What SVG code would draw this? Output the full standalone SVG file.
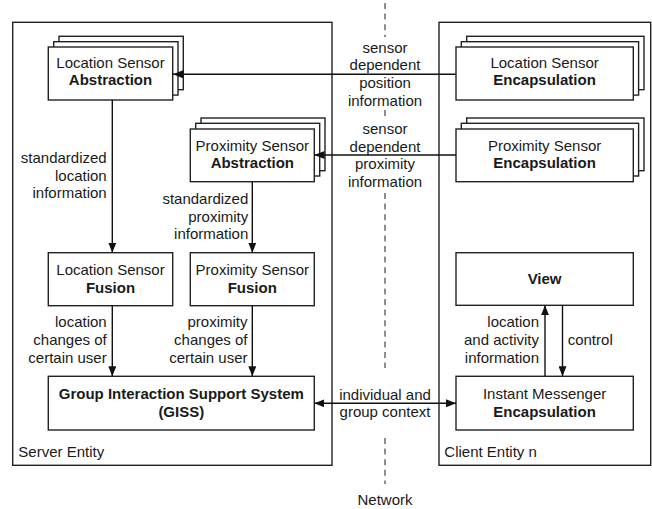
<svg xmlns="http://www.w3.org/2000/svg" width="652" height="509" viewBox="0 0 652 509">
<style>
text{font-family:"Liberation Sans",Arial,sans-serif;font-size:15px;fill:#1a1a1a}
.b{font-weight:bold}
.m{text-anchor:middle}
.r{text-anchor:end}
.box{fill:#fff;stroke:#222;stroke-width:1.4}
.ent{fill:none;stroke:#222;stroke-width:1.4}
.c{fill:none;stroke:#111;stroke-width:1.4}
.net{fill:none;stroke:#444;stroke-width:1.2;stroke-dasharray:6 4.6}
</style>
<defs>
<marker id="ah" markerUnits="userSpaceOnUse" markerWidth="10" markerHeight="8" refX="10" refY="4" orient="auto-start-reverse">
<path d="M0,0 L10,4 L0,8 z" fill="#111"/>
</marker>
</defs>
<g id="network">
<line class="net" x1="385" y1="3" x2="385" y2="37"/>
<line class="net" x1="385" y1="110" x2="385" y2="118"/>
<line class="net" x1="385" y1="193" x2="385" y2="368"/>
<line class="net" x1="385" y1="438" x2="385" y2="484"/>
<text class="m" x="385" y="505">Network</text>
</g>
<g id="server-entity">
<rect class="ent" x="12.7" y="22.3" width="319.3" height="443"/>
<text x="18.3" y="456.7">Server Entity</text>
</g>
<g id="client-entity">
<rect class="ent" x="439" y="22.3" width="211.7" height="443"/>
<text x="444.3" y="456.7">Client Entity n</text>
</g>
<g id="location-sensor-abstraction">
<rect class="box" x="59" y="36.3" width="124.3" height="53.4"/>
<rect class="box" x="53.7" y="41.7" width="124.3" height="53.4"/>
<rect class="box" x="48.3" y="47" width="124.4" height="53"/>
<text class="m" x="110.5" y="68.3">Location Sensor</text>
<text class="m b" x="110.5" y="85.3">Abstraction</text>
</g>
<g id="proximity-sensor-abstraction">
<rect class="box" x="201" y="118" width="124" height="52.7"/>
<rect class="box" x="195.7" y="123.3" width="124" height="52.7"/>
<rect class="box" x="190.3" y="129" width="124" height="52.7"/>
<text class="m" x="252.3" y="150.7">Proximity Sensor</text>
<text class="m b" x="252.3" y="168.3">Abstraction</text>
</g>
<g id="location-sensor-encapsulation">
<rect class="box" x="466.7" y="36.3" width="177.3" height="53.4"/>
<rect class="box" x="461.3" y="41.7" width="177.3" height="53.4"/>
<rect class="box" x="456" y="47" width="177.3" height="53"/>
<text class="m" x="544.6" y="68.3">Location Sensor</text>
<text class="m b" x="544.6" y="85.3">Encapsulation</text>
</g>
<g id="proximity-sensor-encapsulation">
<rect class="box" x="466.7" y="118" width="177.3" height="52.7"/>
<rect class="box" x="461.3" y="123.3" width="177.3" height="52.7"/>
<rect class="box" x="456" y="129" width="177.3" height="52.7"/>
<text class="m" x="544.6" y="150.7">Proximity Sensor</text>
<text class="m b" x="544.6" y="168.3">Encapsulation</text>
</g>
<g id="location-sensor-fusion">
<rect class="box" x="48.3" y="252.7" width="124.4" height="53"/>
<text class="m" x="110.5" y="275">Location Sensor</text>
<text class="m b" x="110.5" y="292.7">Fusion</text>
</g>
<g id="proximity-sensor-fusion">
<rect class="box" x="190.3" y="252.7" width="124" height="53"/>
<text class="m" x="252.3" y="275">Proximity Sensor</text>
<text class="m b" x="252.3" y="292.7">Fusion</text>
</g>
<g id="giss">
<rect class="box" x="48.3" y="376.3" width="266" height="53.7"/>
<text class="m b" x="181.3" y="399">Group Interaction Support System</text>
<text class="m b" x="181.3" y="416.7">(GISS)</text>
</g>
<g id="view">
<rect class="box" x="456" y="252.7" width="177.3" height="52.6"/>
<text class="m b" x="544.6" y="284">View</text>
</g>
<g id="instant-messenger-encapsulation">
<rect class="box" x="456" y="376.3" width="177.3" height="53.7"/>
<text class="m" x="544.6" y="399">Instant Messenger</text>
<text class="m b" x="544.6" y="416.7">Encapsulation</text>
</g>
<g id="connectors">
<line class="c" x1="456" y1="74.3" x2="173" y2="74.3" marker-end="url(#ah)"/>
<line class="c" x1="456" y1="155" x2="314.5" y2="155" marker-end="url(#ah)"/>
<line class="c" x1="112.3" y1="100" x2="112.3" y2="252.7" marker-end="url(#ah)"/>
<line class="c" x1="252.3" y1="181.7" x2="252.3" y2="252.7" marker-end="url(#ah)"/>
<line class="c" x1="112.3" y1="305.7" x2="112.3" y2="376.3" marker-end="url(#ah)"/>
<line class="c" x1="252.3" y1="305.7" x2="252.3" y2="376.3" marker-end="url(#ah)"/>
<line class="c" x1="314.3" y1="403.3" x2="456" y2="403.3" marker-start="url(#ah)" marker-end="url(#ah)"/>
<line class="c" x1="545" y1="376.3" x2="545" y2="305.3" marker-end="url(#ah)"/>
<line class="c" x1="562.5" y1="305.3" x2="562.5" y2="376.3" marker-end="url(#ah)"/>
</g>
<g id="labels">
<text class="m" x="385" y="52.7">sensor</text>
<text class="m" x="385" y="70.4">dependent</text>
<text class="m" x="385" y="88.1">position</text>
<text class="m" x="385" y="105.8">information</text>
<text class="m" x="385" y="134">sensor</text>
<text class="m" x="385" y="151.7">dependent</text>
<text class="m" x="385" y="169.4">proximity</text>
<text class="m" x="385" y="187.1">information</text>
<text class="r" x="106.7" y="162.7">standardized</text>
<text class="r" x="106.7" y="180.5">location</text>
<text class="r" x="106.7" y="198.3">information</text>
<text class="r" x="248.3" y="204">standardized</text>
<text class="r" x="248.3" y="221.7">proximity</text>
<text class="r" x="248.3" y="239.4">information</text>
<text class="r" x="106.7" y="327.3">location</text>
<text class="r" x="106.7" y="345">changes of</text>
<text class="r" x="106.7" y="362.7">certain user</text>
<text class="r" x="247.5" y="327.3">proximity</text>
<text class="r" x="247.5" y="345">changes of</text>
<text class="r" x="247.5" y="362.7">certain user</text>
<text class="m" x="385" y="399.5">individual and</text>
<text class="m" x="385" y="416.5">group context</text>
<text class="r" x="539" y="327.3">location</text>
<text class="r" x="539" y="345">and activity</text>
<text class="r" x="539" y="362.7">information</text>
<text x="567.7" y="345">control</text>
</g>
</svg>
